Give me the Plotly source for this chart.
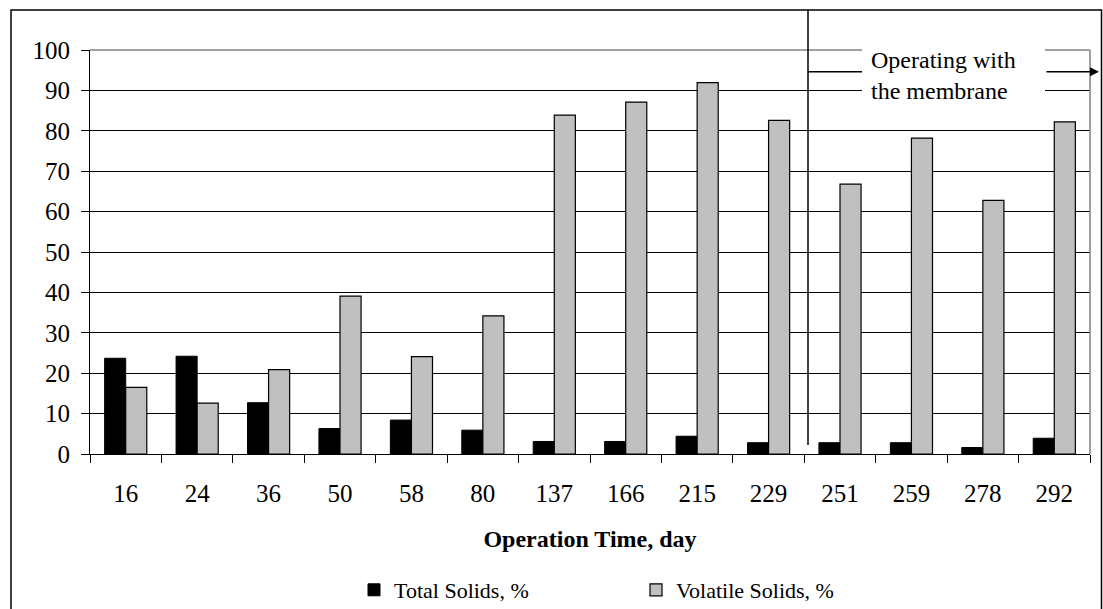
import plotly.graph_objects as go

days = ["16", "24", "36", "50", "58", "80", "137", "166", "215", "229", "251", "259", "278", "292"]
total_solids = [23.7, 24.2, 12.7, 6.3, 8.4, 5.9, 3.1, 3.1, 4.4, 2.8, 2.8, 2.8, 1.6, 3.9]
volatile_solids = [16.5, 12.6, 20.9, 39.1, 24.1, 34.2, 83.9, 87.1, 91.9, 82.6, 66.8, 78.2, 62.8, 82.2]
y_ticks = list(range(0, 101, 10))

FONT = "Liberation Serif"
W, H = 1103, 609
ML, MR, MT, MB = 90, 13, 50, 155
PW = W - ML - MR
PH = H - MT - MB


def px(xp):
    return (xp - ML) / PW


def py(yp):
    return (H - MB - yp) / PH


fig = go.Figure()
fig.add_trace(go.Bar(x=days, y=total_solids, name="Total Solids, %",
                     marker=dict(color="#000000", line=dict(color="#000000", width=1))))
fig.add_trace(go.Bar(x=days, y=volatile_solids, name="Volatile Solids, %",
                     marker=dict(color="#C0C0C0", line=dict(color="#000000", width=1.2))))

fig.update_layout(
    width=W, height=H,
    margin=dict(l=ML, r=MR, t=MT, b=MB, autoexpand=False),
    paper_bgcolor="white", plot_bgcolor="white",
    barmode="group", bargap=0.41, bargroupgap=0,
    font=dict(family=FONT, color="black", size=24),
    showlegend=True,
    legend=dict(orientation="h", x=px(354), xanchor="left", y=py(590), yanchor="middle",
                font=dict(family=FONT, size=22, color="black"),
                entrywidth=237, entrywidthmode="pixels",
                bgcolor="rgba(0,0,0,0)"),
    xaxis=dict(type="category", range=[-0.5, 13.5], tickson="boundaries",
               ticks="outside", ticklen=8, tickcolor="black", tickwidth=1,
               showline=True, linecolor="black", linewidth=1.2,
               showgrid=False, automargin=False,
               tickfont=dict(family=FONT, size=25, color="black"),
               ticklabelstandoff=17,
               title=dict(text="<b>Operation Time, day</b>", standoff=24,
                          font=dict(family=FONT, size=24, color="black"))),
    yaxis=dict(range=[0, 100], tickvals=y_ticks, ticks="outside", ticklen=8,
               tickcolor="black", tickwidth=1,
               showline=True, linecolor="black", linewidth=1.2,
               showgrid=True, gridcolor="black", gridwidth=1, zeroline=False,
               automargin=False, ticklabelstandoff=6,
               tickfont=dict(family=FONT, size=25, color="black")),
)

shapes = []
# plot area gray border (top and right)
shapes.append(dict(type="line", xref="paper", yref="paper", x0=0, x1=1, y0=1, y1=1,
                   line=dict(color="#808080", width=1.5), layer="above"))
shapes.append(dict(type="line", xref="paper", yref="paper", x0=1, x1=1, y0=0, y1=1,
                   line=dict(color="#808080", width=1.5), layer="above"))
# vertical separator line
shapes.append(dict(type="line", xref="paper", yref="paper", x0=px(808), x1=px(808),
                   y0=py(445), y1=py(10), line=dict(color="black", width=1.5), layer="above"))
# white box behind label
shapes.append(dict(type="rect", xref="paper", yref="paper", x0=px(862), x1=px(1045),
                   y0=py(110), y1=py(40), fillcolor="white", line=dict(width=0), layer="above"))
# arrow left segment
shapes.append(dict(type="line", xref="paper", yref="paper", x0=px(808), x1=px(862),
                   y0=py(71.7), y1=py(71.7), line=dict(color="black", width=1.5), layer="above"))
# outer border (left, top, right)
shapes.append(dict(type="path", xref="paper", yref="paper",
                   path=f"M {px(11)},{py(700)} L {px(11)},{py(10)} L {px(1101.5)},{py(10)} L {px(1101.5)},{py(700)}",
                   line=dict(color="black", width=1.5), layer="above"))
fig.update_layout(shapes=shapes)

fig.add_annotation(xref="paper", yref="paper", x=px(1099), y=py(71.7),
                   ax=1045 - 1099, ay=0, axref="pixel", ayref="pixel",
                   text="", showarrow=True, arrowhead=2, arrowsize=1.2, arrowwidth=1.5,
                   arrowcolor="black", standoff=0, startstandoff=0)
fig.add_annotation(xref="paper", yref="paper", x=px(869), y=py(76), xanchor="left",
                   yanchor="middle", align="left", showarrow=False,
                   text="Operating with<br>the membrane",
                   font=dict(family=FONT, size=24, color="black"))

fig.write_html("out.html")
